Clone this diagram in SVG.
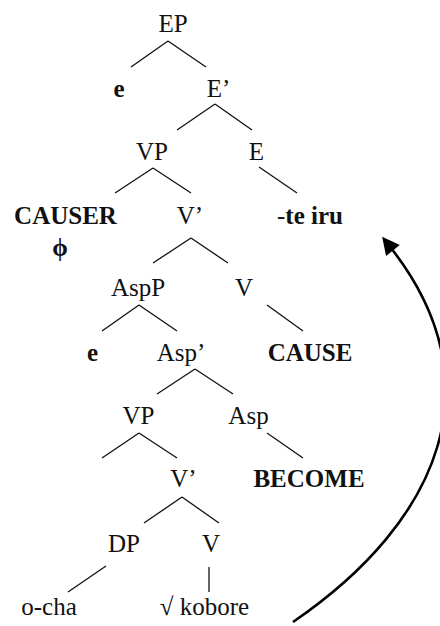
<svg xmlns="http://www.w3.org/2000/svg" width="440" height="626" viewBox="0 0 440 626">
<style>
text{font-family:"Liberation Serif","Times New Roman",serif;font-size:25px;fill:#111;text-anchor:middle}
.b{font-weight:bold}
.br{stroke:#111;stroke-width:1.3;fill:none}
.arc{stroke:#000;stroke-width:2.6;fill:none}
</style>
<defs>
<marker id="ah" viewBox="0 0 10 10" refX="2" refY="5" markerWidth="7" markerHeight="7" markerUnits="userSpaceOnUse" orient="auto" style="overflow:visible">
<path d="M0,0 L10,5 L0,10 z" fill="#000" transform="scale(2.5) translate(-1,-3)"/>
</marker>
</defs>
<rect width="440" height="626" fill="#fff"/>
<g id="connectors">
<path class="br" d="M168,41 L131,67 M168,41 L206,67"/>
<path class="br" d="M215,104 L177,130 M215,104 L252,130"/>
<path class="br" d="M153,168 L115,193 M153,168 L191,193"/>
<path class="br" d="M259,167 L297,193"/>
<path class="br" d="M191,238 L153,263 M191,238 L228,263"/>
<path class="br" d="M139,305 L102,331 M139,305 L177,331"/>
<path class="br" d="M267,305 L303,331"/>
<path class="br" d="M195,369 L157,394 M195,369 L233,394"/>
<path class="br" d="M139,433 L102,458 M139,433 L177,458"/>
<path class="br" d="M267,433 L303,458"/>
<path class="br" d="M182,497 L144,523 M182,497 L219,523"/>
<path class="br" d="M106,566 L68,592"/>
<path class="br" d="M209,567 L209,592"/>
<path id="movement" class="arc" d="M293,622 C442,520 496,382 391,248" marker-end="url(#ah)"/>
</g>
<g id="n-EP"><text x="173" y="32">EP</text></g>
<g id="n-e1"><text class="b" x="119" y="97">e</text></g>
<g id="n-Ebar"><text x="218.5" y="97">E’</text></g>
<g id="n-VP1"><text x="152" y="160">VP</text></g>
<g id="n-E"><text x="256.5" y="160">E</text></g>
<g id="n-CAUSER"><text class="b" x="65.5" y="224">CAUSER</text></g>
<g id="n-phi"><text class="b" x="60" y="256">ϕ</text></g>
<g id="n-Vbar1"><text x="190" y="224">V’</text></g>
<g id="n-teiru"><text x="310" y="224">-<tspan class="b">te iru</tspan></text></g>
<g id="n-AspP"><text x="138" y="296">AspP</text></g>
<g id="n-V1"><text x="244" y="296">V</text></g>
<g id="n-e2"><text class="b" x="92.5" y="361">e</text></g>
<g id="n-Aspbar"><text x="181" y="361">Asp’</text></g>
<g id="n-CAUSE"><text class="b" x="310" y="361">CAUSE</text></g>
<g id="n-VP2"><text x="138.5" y="424">VP</text></g>
<g id="n-Asp"><text x="248.5" y="424">Asp</text></g>
<g id="n-Vbar2"><text x="183.5" y="487">V’</text></g>
<g id="n-BECOME"><text class="b" x="309" y="487">BECOME</text></g>
<g id="n-DP"><text x="124" y="552">DP</text></g>
<g id="n-V2"><text x="211" y="552">V</text></g>
<g id="n-ocha"><text x="49" y="615">o-cha</text></g>
<g id="n-kobore"><text x="204.5" y="615">√ kobore</text></g>
</svg>
